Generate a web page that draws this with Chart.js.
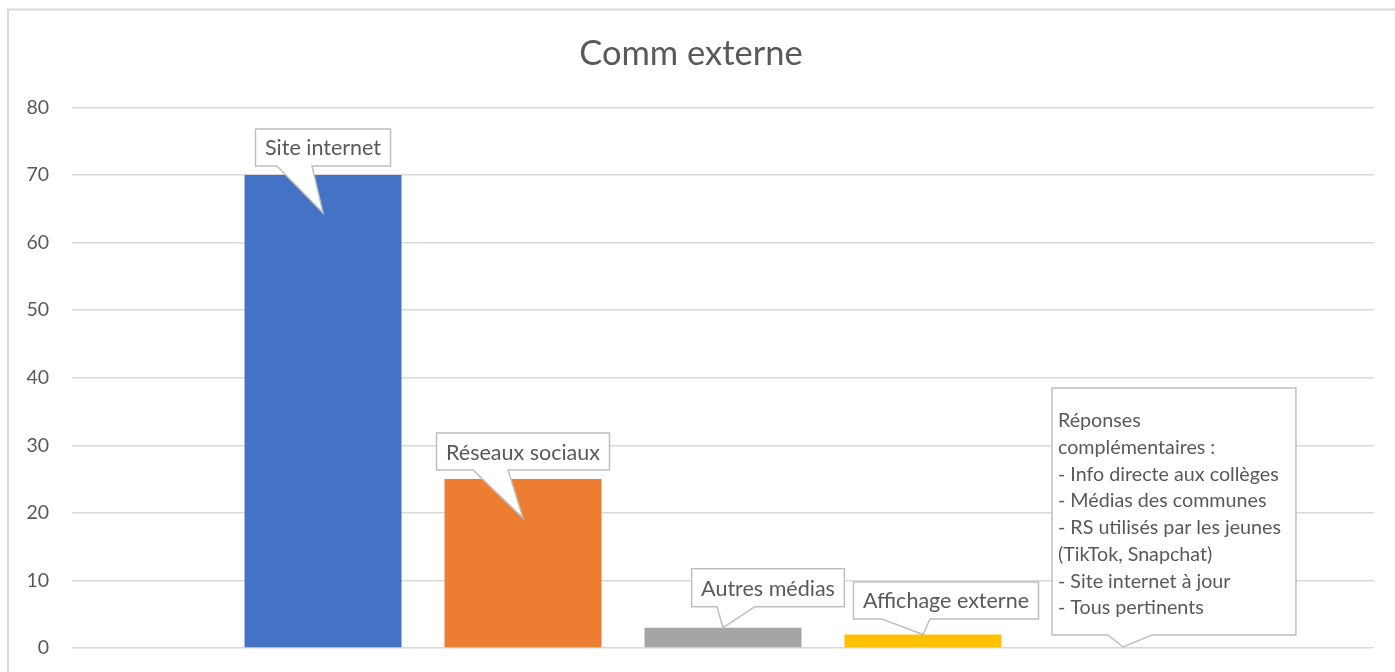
<!DOCTYPE html>
<html>
<head>
<meta charset="utf-8">
<script src="https://cdn.jsdelivr.net/npm/chart.js@4.4.0/dist/chart.umd.min.js"></script>
<style>
  body { margin: 0; background: #fff; }
  #wrap { width: 1395px; height: 672px; position: relative; }
</style>
</head>
<body>
<div id="wrap"><canvas id="myChart" width="1395" height="672"></canvas></div>
<script>
// Chart data
const categories = ['Comm externe'];
const seriesNames = ['Site internet', 'Réseaux sociaux', 'Autres médias', 'Affichage externe', 'Réponses complémentaires'];
const seriesValues = [70, 25, 3, 2, 0];
const seriesColors = ['#4472C4', '#ED7D31', '#A5A5A5', '#FFC000', '#5B9BD5'];
const calloutTexts = [
    ['Site internet'],
    ['Réseaux sociaux'],
    ['Autres médias'],
    ['Affichage externe'],
    ['Réponses', 'complémentaires :', '- Info directe aux collèges', '- Médias des communes',
     '- RS utilisés par les jeunes', '(TikTok, Snapchat)', '- Site internet à jour', '- Tous pertinents']
];
const yTicks = { min: 0, max: 80, step: 10 };

const textColor = '#595959';
const gridColor = '#D9D9D9';
const fontFamily = 'Lato, "Open Sans", sans-serif';

// callout placement, relative to the top centre of each bar (pixels)
const calloutStyle = [
    { dx: 0,    bottom: -9,    height: 37,  baseL: -46, baseR: -11, tipDx: 0, tipDy: 38 },
    { dx: 0,    bottom: -9,    height: 37,  baseL: -50, baseR: -15, tipDx: 0, tipDy: 39 },
    { dx: 45,   bottom: -21,   height: 38,  baseL: -6,  baseR: 32,  tipDx: 0, tipDy: 0 },
    { dx: 23,   bottom: -15.5, height: 37,  baseL: -41, baseR: 7,   tipDx: 0, tipDy: 0 },
    { dx: 51,   bottom: -13,   height: 247, width: 244, baseL: -15, baseR: 29, tipDx: 0, tipDy: -1,
      multi: true, padLeft: 6, firstLine: 33, lineGap: 26.7 }
];

const calloutPlugin = {
    id: 'callouts',
    afterDatasetsDraw(chart) {
        const ctx = chart.ctx;
        ctx.save();
        chart.data.datasets.forEach((ds, i) => {
            const bar = chart.getDatasetMeta(i).data[0];
            const st = calloutStyle[i];
            const lines = calloutTexts[i];
            const fontSize = st.multi ? 19.7 : 21.5;
            ctx.font = fontSize + 'px ' + fontFamily;

            let w = st.width;
            if (!w) w = ctx.measureText(lines[0]).width + 19;
            const cx = bar.x + st.dx;
            const bottom = bar.y + st.bottom;
            const top = bottom - st.height;
            const left = cx - w / 2;
            const right = cx + w / 2;

            ctx.beginPath();
            ctx.moveTo(left, top);
            ctx.lineTo(right, top);
            ctx.lineTo(right, bottom);
            ctx.lineTo(bar.x + st.baseR, bottom);
            ctx.lineTo(bar.x + st.tipDx, bar.y + st.tipDy);
            ctx.lineTo(bar.x + st.baseL, bottom);
            ctx.lineTo(left, bottom);
            ctx.closePath();
            ctx.fillStyle = '#FFFFFF';
            ctx.fill();
            ctx.strokeStyle = '#BFBFBF';
            ctx.lineWidth = 1.5;
            ctx.stroke();

            ctx.fillStyle = textColor;
            ctx.textBaseline = 'middle';
            if (st.multi) {
                ctx.textAlign = 'left';
                lines.forEach((line, k) => {
                    ctx.fillText(line, left + st.padLeft, top + st.firstLine + k * st.lineGap);
                });
            } else {
                ctx.textAlign = 'center';
                ctx.fillText(lines[0], cx, (top + bottom) / 2 + 1);
            }
        });
        ctx.restore();
    }
};

// light frame around the chart, like the Excel chart border
const framePlugin = {
    id: 'frame',
    beforeDraw(chart) {
        const ctx = chart.ctx;
        ctx.save();
        ctx.fillStyle = '#FFFFFF';
        ctx.fillRect(0, 0, chart.width, chart.height);
        ctx.strokeStyle = gridColor;
        ctx.lineWidth = 2;
        ctx.beginPath();
        ctx.moveTo(8, chart.height);
        ctx.lineTo(8, 9.5);
        ctx.lineTo(chart.width, 9.5);
        ctx.stroke();
        ctx.restore();
    }
};

const datasets = seriesNames.map((name, i) => ({
    label: name,
    data: [seriesValues[i]],
    backgroundColor: seriesColors[i],
    borderWidth: 0,
    categoryPercentage: 0.768,
    barPercentage: 0.785
}));

const ctx = document.getElementById('myChart').getContext('2d');
const myChart = new Chart(ctx, {
    type: 'bar',
    data: {
        labels: categories,
        datasets: datasets
    },
    plugins: [framePlugin, calloutPlugin],
    options: {
        responsive: false,
        animation: false,
        layout: {
            padding: { left: 8, right: 21, bottom: 24, top: 0 }
        },
        plugins: {
            legend: { display: false },
            tooltip: { enabled: false },
            title: {
                display: true,
                text: 'Comm externe',
                color: textColor,
                font: { family: fontFamily, size: 34.5, weight: 'normal', lineHeight: 1.2 },
                padding: { top: 33, bottom: 33 }
            }
        },
        scales: {
            x: {
                display: false
            },
            y: {
                min: yTicks.min,
                max: yTicks.max,
                afterFit(scale) { scale.width = 64; },
                ticks: {
                    stepSize: yTicks.step,
                    color: textColor,
                    padding: 0,
                    font: { family: fontFamily, size: 19.5 }
                },
                border: { display: false },
                grid: {
                    color: gridColor,
                    lineWidth: 1.5,
                    drawTicks: true,
                    tickLength: 23,
                    tickColor: 'rgba(0,0,0,0)'
                }
            }
        }
    }
});
</script>
</body>
</html>
